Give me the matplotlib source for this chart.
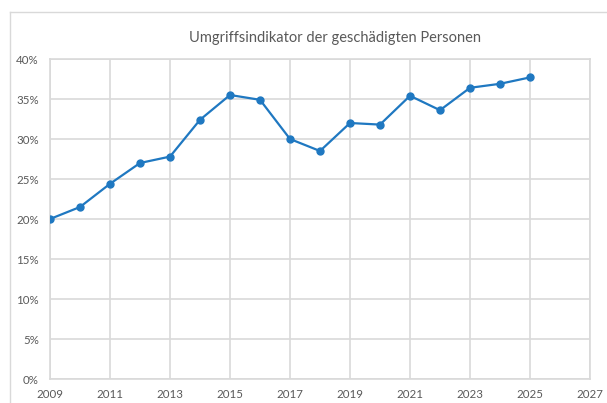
import numpy as np
import matplotlib.pyplot as plt
from matplotlib.lines import Line2D
from matplotlib.ticker import PercentFormatter

years = [2009, 2010, 2011, 2012, 2013, 2014, 2015, 2016, 2017,
         2018, 2019, 2020, 2021, 2022, 2023, 2024, 2025]
values = [20.0, 21.5, 24.4, 27.0, 27.8, 32.4, 35.5, 34.9, 30.0,
          28.5, 32.0, 31.8, 35.4, 33.6, 36.4, 36.9, 37.7]
title = "Umgriffsindikator der geschädigten Personen"

W, H = 607, 403
plt.rcParams['font.family'] = ['Lato', 'DejaVu Sans']

fig = plt.figure(figsize=(W / 100, H / 100), dpi=100)
ax = fig.add_axes([50 / W, 1 - 379 / H, 540 / W, 320 / H])

ax.plot(years, values, color="#1f78c1", linewidth=1.6, marker="o",
        markersize=5, zorder=3)

ax.set_xlim(2009, 2027)
ax.set_ylim(0, 40)
ax.set_xticks(np.arange(2009, 2028, 2))
ax.set_yticks(np.arange(0, 41, 5))
ax.yaxis.set_major_formatter(PercentFormatter(decimals=0))
ax.grid(True, color="#d9d9d9", linewidth=1.2)
ax.set_axisbelow(True)
for s in ax.spines.values():
    s.set_color("#d9d9d9")
    s.set_linewidth(1.2)
ax.tick_params(length=0, labelsize=8.3, labelcolor="#595959")
ax.tick_params(axis="y", pad=8)
ax.tick_params(axis="x", pad=7)

fig.text(0.552, 1 - 38 / H, title, ha="center", va="center",
         fontsize=10.5, color="#595959")

# outer chart frame (only left and top visible)
fig.add_artist(Line2D([10 / W, 10 / W], [0, 1 - 12 / H], transform=fig.transFigure,
                      color="#d9d9d9", linewidth=1))
fig.add_artist(Line2D([10 / W, 1], [1 - 12 / H, 1 - 12 / H], transform=fig.transFigure,
                      color="#d9d9d9", linewidth=1))

fig.savefig("out.png", dpi=100)
